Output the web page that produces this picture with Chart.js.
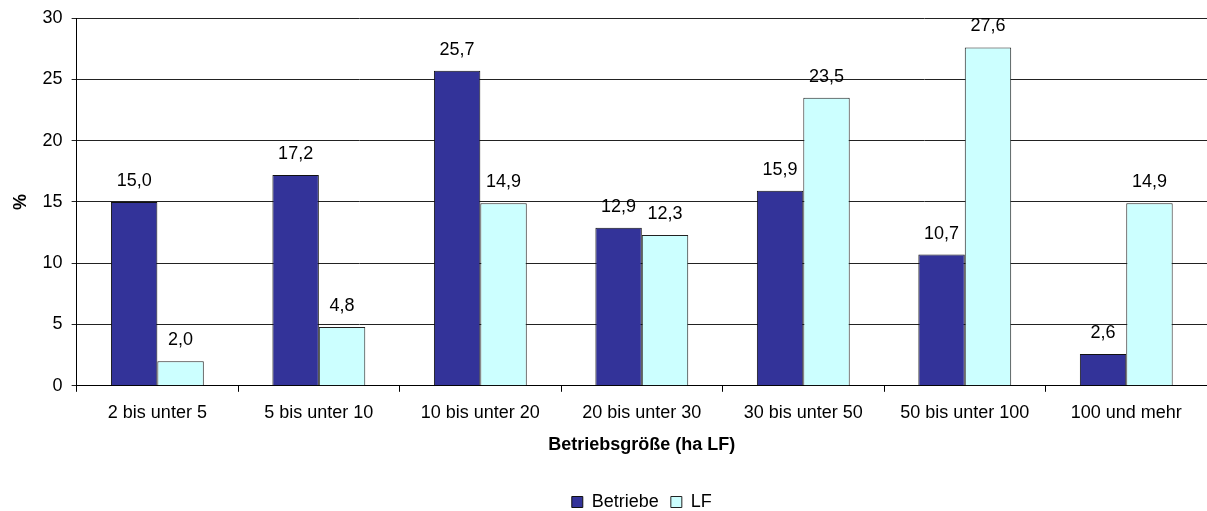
<!DOCTYPE html>
<html>
<head>
<meta charset="utf-8">
<script src="https://cdn.jsdelivr.net/npm/chart.js@4"></script>
<style>
  html, body { margin: 0; padding: 0; background: #fff; overflow: hidden; }
  #wrap { width: 1207px; height: 521px; }
</style>
</head>
<body>
<div id="wrap"><canvas id="chart"></canvas></div>
<script>
const categories = ['2 bis unter 5', '5 bis unter 10', '10 bis unter 20', '20 bis unter 30', '30 bis unter 50', '50 bis unter 100', '100 und mehr'];
const betriebe = [15.0, 17.2, 25.7, 12.9, 15.9, 10.7, 2.6];
const lf = [2.0, 4.8, 14.9, 12.3, 23.5, 27.6, 14.9];
const yTicks = [0, 5, 10, 15, 20, 25, 30];

const FONT = '"Liberation Sans", Arial, sans-serif';
const FS = 18;

// values above the bars, german decimal comma
const barLabels = {
    id: 'barLabels',
    afterDatasetsDraw(chart) {
        const ctx = chart.ctx;
        ctx.save();
        ctx.font = FS + 'px ' + FONT;
        ctx.fillStyle = '#000';
        ctx.textAlign = 'center';
        ctx.textBaseline = 'middle';
        chart.data.datasets.forEach((ds, i) => {
            chart.getDatasetMeta(i).data.forEach((bar, j) => {
                const txt = ds.data[j].toFixed(1).replace('.', ',');
                ctx.fillText(txt, bar.x, bar.y - 21);
            });
        });
        ctx.restore();
    }
};

new Chart(document.getElementById('chart'), {
    type: 'bar',
    data: {
        labels: categories,
        datasets: [
            { label: 'Betriebe', data: betriebe, backgroundColor: '#333399', borderColor: '#111', borderWidth: 1 },
            { label: 'LF', data: lf, backgroundColor: '#CCFFFF', borderColor: '#222', borderWidth: 1 }
        ]
    },
    options: {
        responsive: true,
        maintainAspectRatio: false,
        animation: false,
        devicePixelRatio: 1,
        layout: { padding: { top: 4, right: 0, left: 0, bottom: 0 } },
        datasets: { bar: { barPercentage: 1, categoryPercentage: 0.575 } },
        plugins: {
            tooltip: { enabled: false },
            legend: {
                position: 'bottom',
                fullSize: false,
                labels: { font: { family: FONT, size: FS }, color: '#000', boxWidth: 11, boxHeight: 11, padding: 12 }
            }
        },
        scales: {
            x: {
                grid: { offset: true, drawOnChartArea: false, drawTicks: true, tickLength: 6, color: '#000' },
                border: { color: '#000', width: 1 },
                ticks: { font: { family: FONT, size: FS }, color: '#000', padding: 10, maxRotation: 0 },
                title: { display: true, text: 'Betriebsgröße (ha LF)', font: { family: FONT, size: FS, weight: 'bold' }, color: '#000', padding: { top: 1, bottom: 25 } }
            },
            y: {
                min: 0,
                max: 30,
                afterBuildTicks: (axis) => { axis.ticks = yTicks.map(v => ({ value: v })); },
                grid: { color: '#222', tickLength: 5 },
                border: { color: '#000', width: 1 },
                ticks: { font: { family: FONT, size: FS, lineHeight: 1.0 }, color: '#000', padding: 9 },
                title: { display: true, text: '%', font: { family: FONT, size: FS, weight: 'bold' }, color: '#000', padding: { top: 10, bottom: 2 } }
            }
        }
    },
    plugins: [barLabels]
});
</script>
</body>
</html>
